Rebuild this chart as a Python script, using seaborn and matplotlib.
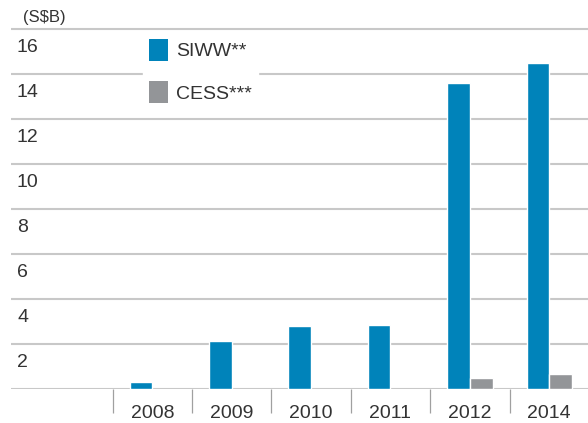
import numpy as np
import pandas as pd
import matplotlib
matplotlib.use("Agg")
import matplotlib.pyplot as plt
import matplotlib.transforms as mtransforms
from matplotlib.patches import Patch
import seaborn as sns

# ---- data ----
years = ["2008", "2009", "2010", "2011", "2012", "2014"]
siww = [0.34, 2.16, 2.80, 2.87, 13.63, 14.50]
cess = [np.nan, np.nan, np.nan, np.nan, 0.50, 0.68]
series_names = ["SIWW**", "CESS***"]
y_ticks = [0, 2, 4, 6, 8, 10, 12, 14, 16]
unit_label = "(S$B)"

BLUE = "#0083BA"
GRAY = "#939598"
TEXT = "#333333"
GRID = "#C8C8C8"

df = pd.DataFrame({
    "year": years * 2,
    "series": [series_names[0]] * len(years) + [series_names[1]] * len(years),
    "value": siww + cess,
})

sns.set_theme(style="white")
plt.rcParams["font.family"] = ["Liberation Sans", "DejaVu Sans"]

W, H = 588, 423
fig = plt.figure(figsize=(W / 100, H / 100), dpi=100)

# axes geometry (pixels)
x0_px, x1_px = 10.7, 589.0
y0_px = 389.3           # baseline (value 0)
px_per_unit = 22.5
ytop_val = 16.6
ytop_px = y0_px - ytop_val * px_per_unit
ax = fig.add_axes([x0_px / W, 1 - y0_px / H, (x1_px - x0_px) / W, (y0_px - ytop_px) / H])

sns.barplot(data=df, x="year", y="value", hue="series", order=years,
            hue_order=series_names, palette=[BLUE, GRAY], saturation=1,
            width=0.57, dodge=True, ax=ax, zorder=3, legend=False)

ax.set_xlim(-1.783, 5.5)
ax.set_ylim(0, ytop_val)

for s in ax.spines.values():
    s.set_visible(False)

# gridlines
for v in y_ticks:
    ax.axhline(v, color=GRID, lw=1.5, zorder=1)

# y labels inside, below their gridline
ax.set_yticks([])
lab_tr = ax.get_yaxis_transform() + mtransforms.ScaledTranslation(6.3 / 100, -9.5 / 100, fig.dpi_scale_trans)
for v in y_ticks[1:]:
    ax.text(0, v, str(v), transform=lab_tr, ha="left", va="top",
            fontsize=14, color=TEXT)

# x labels and separators
ax.set_xticks(range(len(years)))
ax.set_xticklabels(years)
ax.set_xticks(np.arange(-0.5, len(years) - 1, 1), minor=True)
ax.tick_params(axis="x", which="major", bottom=False, length=0, pad=11,
               labelsize=14, labelcolor=TEXT)
ax.tick_params(axis="x", which="minor", bottom=True, length=17.5, width=0.9,
               color="#A0A0A0", direction="out")
ax.set_xlabel("")
ax.set_ylabel("")

# unit label
fig.text(23 / W, 1 - 17.5 / H, unit_label, ha="left", va="center", fontsize=12, color=TEXT)

# legend
handles = [Patch(facecolor=BLUE, edgecolor="none"), Patch(facecolor=GRAY, edgecolor="none")]
leg = ax.legend(handles, series_names, loc="upper left",
                bbox_to_anchor=(143 / W, 1 - 33 / H), bbox_transform=fig.transFigure,
                borderaxespad=0, frameon=True, fancybox=False, framealpha=1,
                edgecolor="white", facecolor="white", fontsize=14,
                handlelength=1.0, handleheight=1.39, labelspacing=1.02,
                handletextpad=0.4, borderpad=0.3)
for t in leg.get_texts():
    t.set_color(TEXT)
leg.set_zorder(5)

fig.savefig("out.png", dpi=100)
